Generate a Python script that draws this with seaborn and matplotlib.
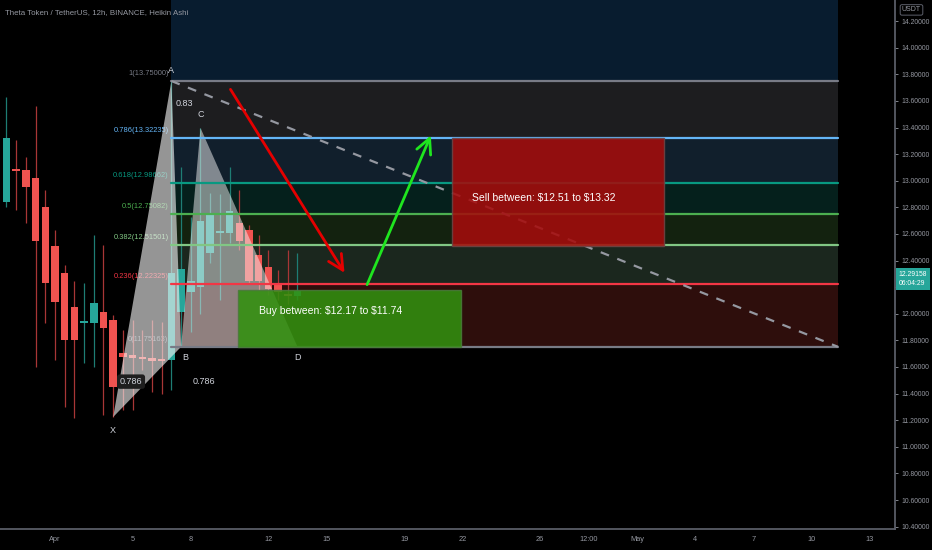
import matplotlib
matplotlib.use("Agg")
import matplotlib.pyplot as plt
import matplotlib.transforms as mtransforms
from matplotlib.patches import Rectangle, Polygon
import seaborn as sns

# 12h Heikin Ashi bars, x = days from Apr 1
days = [-2.5, -2.0, -1.5, -1.0, -0.5, 0.0, 0.5, 1.0, 1.5, 2.0, 2.5, 3.0, 3.5, 4.0, 4.5, 5.0,
        5.5, 6.0, 6.5, 7.0, 7.5, 8.0, 8.5, 9.0, 9.5, 10.0, 10.5, 11.0, 11.5, 12.0, 12.5]
ha_open = [12.84, 13.09, 13.08, 13.02, 12.80, 12.51, 12.31, 12.05, 11.93, 11.93, 12.01, 11.95, 11.705, 11.69, 11.675, 11.667,
           11.66, 11.65, 12.01, 12.16, 12.20, 12.46, 12.61, 12.61, 12.68, 12.63, 12.44, 12.35, 12.22, 12.14, 12.13]
ha_close = [13.32, 13.07, 12.95, 12.55, 12.23, 12.09, 11.80, 11.80, 11.945, 12.08, 11.89, 11.45, 11.675, 11.667, 11.66, 11.645,
            11.645, 12.31, 12.34, 12.25, 12.70, 12.74, 12.62, 12.77, 12.55, 12.25, 12.25, 12.19, 12.16, 12.13, 12.17]
ha_high = [13.63, 13.31, 13.18, 13.56, 12.93, 12.63, 12.37, 12.25, 12.23, 12.59, 12.52, 11.99, 11.88, 11.95, 11.88, 11.95,
           11.94, 13.75, 13.10, 12.73, 13.40, 12.91, 12.90, 13.10, 12.93, 12.67, 12.59, 12.48, 12.33, 12.48, 12.46]
ha_low = [12.80, 12.78, 12.68, 11.60, 11.93, 11.65, 11.30, 11.22, 11.63, 11.60, 11.24, 11.224, 11.28, 11.28, 11.58, 11.41,
          11.40, 11.43, 11.75, 11.86, 12.00, 12.38, 12.10, 12.53, 12.48, 12.23, 12.18, 12.14, 12.10, 12.07, 12.10]

# XABCD pattern
pat_names = ["X", "A", "B", "C", "D"]
pat_day = [3.0, 6.0, 6.5, 7.5, 12.5]
pat_price = [11.224, 13.75, 11.75163, 13.397, 11.75163]

# fib retracement A -> B
fib_ratio = ["1", "0.786", "0.618", "0.5", "0.382", "0.236", "0"]
fib_price = [13.75, 13.32235, 12.98662, 12.75082, 12.51501, 12.22325, 11.75163]
fib_color = ["#787b86", "#64b5f6", "#089981", "#4caf50", "#81c784", "#f23645", "#787b86"]
fib_top = 14.9851
band_color = ["#081c2f", "#1d1d1f", "#111f2c", "#05201c", "#13220f", "#1b271e", "#2e0e0c"]
fib_start, fib_end = 6.0, 40.36

sell_zone = (20.46, 31.39, 12.51, 13.32)
buy_zone = (9.43, 20.93, 11.75, 12.18)

tick_days = [0, 4, 7, 11, 14, 18, 21, 25, 27.5, 30, 33, 36, 39, 42]
tick_labels = ["Apr", "5", "8", "12", "15", "19", "22", "26", "12:00", "May", "4", "7", "10", "13"]
price_ticks = [10.4, 10.6, 10.8, 11.0, 11.2, 11.4, 11.6, 11.8, 12.0, 12.2, 12.4, 12.6, 12.8, 13.0,
               13.2, 13.4, 13.6, 13.8, 14.0, 14.2]
last_price = 12.29158

sns.set_theme(style="dark", rc={"axes.facecolor": "black", "figure.facecolor": "black",
                                "axes.edgecolor": "#5d606b", "text.color": "#d1d4dc"})
plt.rcParams["font.family"] = ["Liberation Sans", "DejaVu Sans"]

UP, DOWN = "#26a69a", "#ef5350"
fig = plt.figure(figsize=(9.32, 5.5), dpi=100)
ax = fig.add_axes([0, 21 / 550, 895 / 932, 529 / 550])
ax.set_xlim(-2.835, 43.3)
ax.set_ylim(10.382, 14.359)

# fib bands + lines
levels = [fib_top] + fib_price
for i in range(len(fib_price)):
    ax.fill_between([fib_start, fib_end], levels[i + 1], levels[i], color=band_color[i], lw=0, zorder=1)
for r, p, c in zip(fib_ratio, fib_price, fib_color):
    ax.plot([fib_start, fib_end], [p, p], color=c, lw=1.6, zorder=4)
    ax.text(fib_start - 0.15, p + 0.03, "%s(%.5f)" % (r, p), color=c, fontsize=5.4,
            ha="right", va="bottom", zorder=2)

# candles
for d, o, c, h, l in zip(days, ha_open, ha_close, ha_high, ha_low):
    col = UP if c >= o else DOWN
    wick = "#1e7d74" if c >= o else "#a83636"
    ax.vlines(d, l, h, color=wick, lw=0.9, zorder=2)
    hgt = max(abs(c - o), 0.015)
    ax.bar(d, hgt, bottom=min(o, c), width=0.39, color=col, lw=0, zorder=2)

# harmonic triangles
xa = [(pat_day[i], pat_price[i]) for i in (0, 1, 2)]
bd = [(pat_day[i], pat_price[i]) for i in (2, 3, 4)]
ax.add_patch(Polygon(xa, closed=True, facecolor="#f2f2f2", alpha=0.62, lw=0, zorder=3))
ax.add_patch(Polygon(bd, closed=True, facecolor="#f2f2f2", alpha=0.5, lw=0, zorder=3))
offs = {"X": (0, -0.1), "A": (0, 0.08), "B": (0.2, -0.08), "C": (0, 0.1), "D": (0, -0.08)}
for n, d, p in zip(pat_names, pat_day, pat_price):
    dx, dy = offs[n]
    ax.text(d + dx, p + dy, n, color="#d1d4dc", fontsize=6.5, ha="center", va="center", zorder=6)
ax.text(6.65, 13.58, "0.83", color="#d1d4dc", fontsize=6.5, ha="center", va="center", zorder=6)
ax.text(3.92, 11.49, "0.786", color="#d1d4dc", fontsize=6.5, ha="center", va="center", zorder=6,
        bbox=dict(boxstyle="round,pad=0.3", fc="#1e1e1e", ec="none"))
ax.text(7.68, 11.49, "0.786", color="#d1d4dc", fontsize=6.5, ha="center", va="center", zorder=6)

# trend line A -> end
sns.lineplot(x=[pat_day[1], fib_end], y=[pat_price[1], fib_price[-1]], ax=ax, color="#9598a1",
             lw=1.6, linestyle=(0, (4, 4)), zorder=4)

# zones
x0, x1, y0, y1 = sell_zone
ax.add_patch(Rectangle((x0, y0), x1 - x0, y1 - y0, facecolor="#a50c0c", edgecolor="#6d4545",
                       lw=1, alpha=0.88, zorder=5))
ax.text(21.5, 12.87, "Sell between: \\$12.51 to \\$13.32", color="white", fontsize=7.5,
        va="center", zorder=6)
x0, x1, y0, y1 = buy_zone
ax.add_patch(Rectangle((x0, y0), x1 - x0, y1 - y0, facecolor="#32900f", edgecolor="#4a7a3a",
                       lw=1, alpha=0.88, zorder=5))
ax.text(10.52, 12.02, "Buy between: \\$12.17 to \\$11.74", color="white", fontsize=7.5,
        va="center", zorder=6)

# arrows
ax.annotate("", xy=(15.0, 12.29), xytext=(8.97, 13.705), zorder=6,
            arrowprops=dict(arrowstyle="->,head_length=0.9,head_width=0.45", color="#e50000", lw=2))
ax.annotate("", xy=(19.43, 13.36), xytext=(16.03, 12.20), zorder=6,
            arrowprops=dict(arrowstyle="->,head_length=0.9,head_width=0.45", color="#1fe61f", lw=2))

# axes
for s in ("top", "left"):
    ax.spines[s].set_visible(False)
ax.spines["right"].set_color("#5d606b")
ax.spines["bottom"].set_color("#5d606b")
ax.yaxis.tick_right()
ax.set_yticks(price_ticks)
# the 12.2 label sits under the last-price box
ax.set_yticklabels(["" if abs(p - 12.2) < 1e-6 else "%.5f" % p for p in price_ticks])
ax.set_xticks(tick_days)
ax.set_xticklabels(tick_labels)
ax.tick_params(axis="y", colors="#9598a1", labelsize=4.9, length=2.5, width=0.6, pad=2, right=True)
ax.tick_params(axis="x", colors="#9598a1", labelsize=5.3, length=0, pad=5)

trans = mtransforms.blended_transform_factory(ax.transAxes, ax.transData)
ax.text(1.004, 12.262, "%.5f\n06:04:29" % last_price, transform=trans, color="white", fontsize=4.9,
        ha="left", va="center", linespacing=1.4, clip_on=False, zorder=7,
        bbox=dict(boxstyle="square,pad=0.4", fc=UP, ec="none"))
fig.text(0.978, 0.982, "USDT", color="#9598a1", fontsize=5, ha="center", va="center",
         bbox=dict(boxstyle="round,pad=0.25", fc="black", ec="#5d606b", lw=0.7))
fig.text(0.005, 0.978, "Theta Token / TetherUS, 12h, BINANCE, Heikin Ashi", color="#9598a1",
         fontsize=5.7, ha="left", va="center")

fig.savefig("out.png", dpi=100, facecolor="black")
